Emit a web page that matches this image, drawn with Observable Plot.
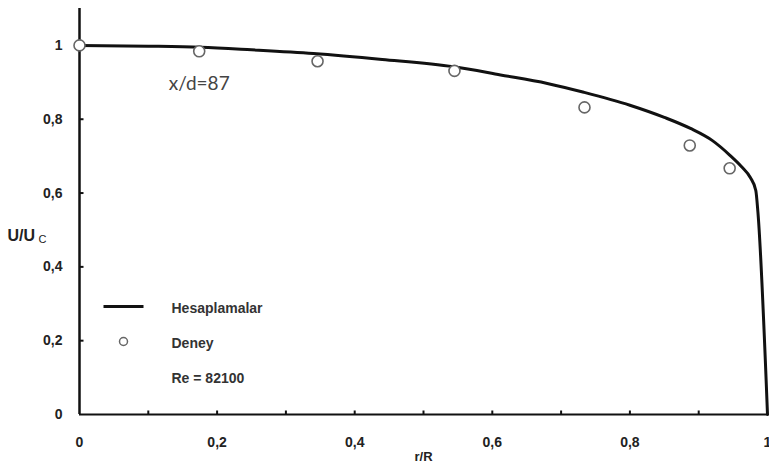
<!DOCTYPE html>
<html><head><meta charset="utf-8">
<script src="https://cdn.jsdelivr.net/npm/d3@7"></script>
<script src="https://cdn.jsdelivr.net/npm/@observablehq/plot@0.6"></script>
<style>body{margin:0;background:#fff;}</style>
</head><body><div id="chart"></div>
<script>
// Computed profile (Hesaplamalar)
const rCalc = [0, 0.1, 0.176, 0.25, 0.34, 0.44, 0.544, 0.612, 0.68, 0.733, 0.8, 0.85, 0.888, 0.92, 0.945, 0.962, 0.975, 0.983, 0.986, 1.0];
const uCalc = [1.0, 0.998, 0.995, 0.988, 0.978, 0.962, 0.942, 0.92, 0.897, 0.873, 0.838, 0.805, 0.775, 0.742, 0.703, 0.672, 0.642, 0.607, 0.55, 0];
// Experiment (Deney)
const rExp = [0, 0.174, 0.346, 0.545, 0.734, 0.887, 0.945];
const uExp = [1.0, 0.984, 0.957, 0.931, 0.832, 0.729, 0.667];
// Ticks
const xTickLabels = [0, 0.2, 0.4, 0.6, 0.8, 1];
const xTickMarks = [0.1, 0.2, 0.3, 0.4, 0.5, 0.6, 0.7, 0.8, 0.9];
const yTickLabels = [0, 0.2, 0.4, 0.6, 0.8, 1];
const yTickMarks = [0.2, 0.4, 0.6, 0.8, 1];
const legendLabels = ["Hesaplamalar", "Deney", "Re = 82100"];
const annotation = ["x/d=87"];

const calc = rCalc.map((r, i) => ({r, u: uCalc[i]}));
const exp = rExp.map((r, i) => ({r, u: uExp[i]}));
const fmt = d => String(d).replace(".", ",");

const tickUp = {draw(ctx) { ctx.moveTo(0, 0); ctx.lineTo(0, -4); }};
const tickRight = {draw(ctx) { ctx.moveTo(0, 0); ctx.lineTo(4, 0); }};
const legendLine = {draw(ctx) { ctx.moveTo(-20, 0); ctx.lineTo(20, 0); }};

const legendText = (label, dy) => Plot.text([label], {frameAnchor: "top-left", dx: 92, dy, text: d => d, textAnchor: "start", fontWeight: "bold", fontSize: 14, fill: "#333"});

const plot = Plot.plot({
  width: 769,
  height: 469,
  marginLeft: 79,
  marginRight: 2,
  marginTop: 8,
  marginBottom: 55,
  style: {fontFamily: "'Liberation Sans', Arial, sans-serif", fontSize: "14px", color: "#222", background: "#fff"},
  x: {domain: [0, 1]},
  y: {domain: [0, 1.1]},
  marks: [
    Plot.axisX(xTickLabels, {tickSize: 0, tickPadding: 23, tickFormat: fmt, fontWeight: "bold", fontSize: 14, fill: "#222", label: null}),
    Plot.axisY(yTickLabels, {tickSize: 0, tickPadding: 17, tickFormat: fmt, fontWeight: "bold", fontSize: 14, fill: "#222", label: null}),
    Plot.dot(xTickMarks, {x: d => d, y: () => 0, symbol: tickUp, stroke: "#111", strokeWidth: 2, fill: "none"}),
    Plot.dot(yTickMarks, {x: () => 0, y: d => d, symbol: tickRight, stroke: "#111", strokeWidth: 2, fill: "none"}),
    Plot.ruleY([0], {stroke: "#111", strokeWidth: 2}),
    Plot.ruleX([0], {stroke: "#111", strokeWidth: 2.5}),
    Plot.line(calc, {x: "r", y: "u", stroke: "#111", strokeWidth: 3, strokeLinejoin: "round", curve: "monotone-x"}),
    Plot.dot(exp, {x: "r", y: "u", r: 5.5, stroke: "#666", strokeWidth: 1.6, fill: "#fff"}),
    Plot.text(annotation, {x: () => 0.174, y: () => 0.897, text: d => d, fontFamily: "Lato, 'DejaVu Sans', sans-serif", fontSize: 19, fill: "#444"}),
    // axis titles
    Plot.text(["r/R"], {frameAnchor: "bottom", dy: 46, text: d => d, fontWeight: "bold", fontSize: 13, fill: "#222"}),
    Plot.text(["U/U"], {frameAnchor: "left", dx: -72, dy: 24, textAnchor: "start", text: d => d, fontWeight: "bold", fontSize: 16, fill: "#222"}),
    Plot.text(["C"], {frameAnchor: "left", dx: -41, dy: 28, textAnchor: "start", text: d => d, fontSize: 11, fill: "#222"}),
    // legend
    Plot.dot([legendLabels[0]], {frameAnchor: "top-left", dx: 44, dy: 298, symbol: legendLine, stroke: "#111", strokeWidth: 3, fill: "none"}),
    Plot.dot([legendLabels[1]], {frameAnchor: "top-left", dx: 44, dy: 333, r: 4, stroke: "#666", strokeWidth: 1.5, fill: "#fff"}),
    legendText(legendLabels[0], 295),
    legendText(legendLabels[1], 330),
    legendText(legendLabels[2], 365)
  ]
});
document.getElementById("chart").appendChild(plot);
</script></body></html>
